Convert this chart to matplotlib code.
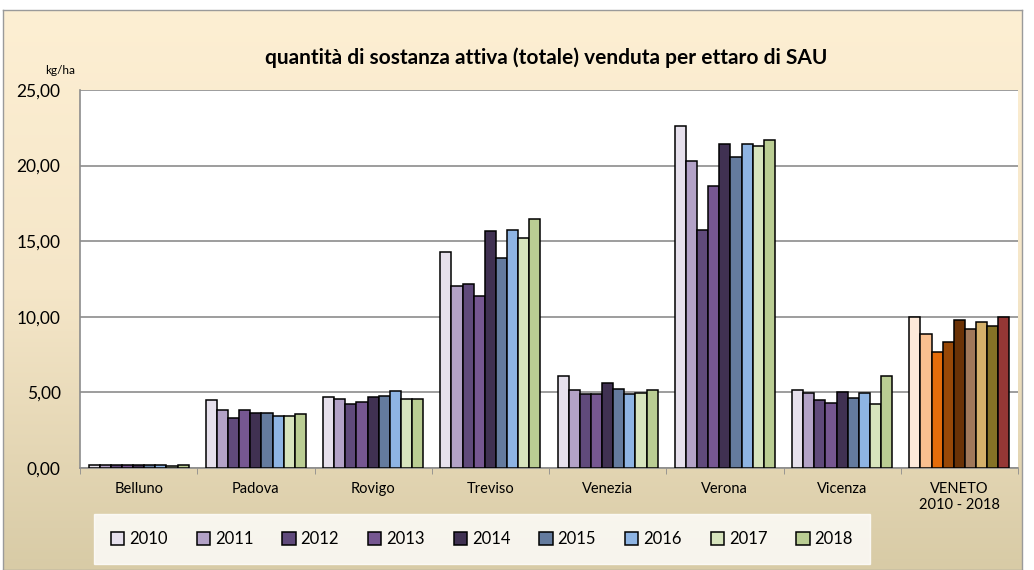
import numpy as np
import matplotlib
matplotlib.use("Agg")
import matplotlib.pyplot as plt
from matplotlib.colors import LinearSegmentedColormap
from matplotlib.ticker import FuncFormatter, FixedLocator

plt.rcParams['font.family'] = ['Lato', 'DejaVu Sans']

categories = ["Belluno", "Padova", "Rovigo", "Treviso", "Venezia", "Verona", "Vicenza", "VENETO\n2010 - 2018"]
years = ["2010", "2011", "2012", "2013", "2014", "2015", "2016", "2017", "2018"]

v2010 = [0.20, 4.48, 4.67, 14.26, 6.06, 22.60, 5.14, 9.97]
v2011 = [0.20, 3.84, 4.56, 12.06, 5.14, 20.28, 4.96, 8.84]
v2012 = [0.20, 3.28, 4.23, 12.17, 4.87, 15.76, 4.52, 7.65]
v2013 = [0.20, 3.84, 4.39, 11.40, 4.87, 18.63, 4.32, 8.31]
v2014 = [0.20, 3.66, 4.67, 15.65, 5.60, 21.43, 5.05, 9.77]
v2015 = [0.20, 3.66, 4.76, 13.91, 5.22, 20.57, 4.61, 9.19]
v2016 = [0.20, 3.46, 5.11, 15.74, 4.87, 21.40, 4.96, 9.66]
v2017 = [0.12, 3.46, 4.56, 15.19, 4.96, 21.30, 4.21, 9.39]
v2018 = [0.20, 3.57, 4.56, 16.50, 5.14, 21.67, 6.06, 9.97]
values = [v2010, v2011, v2012, v2013, v2014, v2015, v2016, v2017, v2018]

colors = ["#E6E0EC", "#B3A2C7", "#604A7B", "#765791", "#403152",
          "#647B9E", "#8EB4E3", "#D7E4BD", "#BACD93"]
veneto_colors = ["#FDE9D9", "#FAC090", "#E46C0A", "#984807", "#6A3206",
                 "#A0785A", "#D4B06A", "#857226", "#953735"]

W, H = 1034, 570
fig = plt.figure(figsize=(W / 100, H / 100), dpi=100)
fig.patch.set_facecolor("white")

# background gradient panel
bg = fig.add_axes([0.003, 0.0, 0.985, 1 - 10 / H], zorder=-10)
cmap = LinearSegmentedColormap.from_list("bg", ["#FDEFD3", "#F5E6C8", "#D8CBA6"])
grad = np.linspace(0, 1, 256).reshape(-1, 1)
bg.imshow(grad, aspect="auto", cmap=cmap, extent=[0, 1, 0, 1])
bg.set_xticks([]); bg.set_yticks([])
for s in bg.spines.values():
    s.set_color("#9A9A9A"); s.set_linewidth(1.0)

ax = fig.add_axes([80 / W, 1 - 468 / H, (1018 - 80) / W, (468 - 90) / H])
ax.set_facecolor("white")

n = len(years)
bw = 0.095
x = np.arange(len(categories))
for j in range(n):
    offs = (j - (n - 1) / 2) * bw
    cols = [colors[j]] * (len(categories) - 1) + [veneto_colors[j]]
    ax.bar(x + offs, values[j], width=bw, color=cols, edgecolor="black",
           linewidth=1.1, label=years[j], zorder=3)

ax.set_xlim(-0.5, len(categories) - 0.5)
ax.set_ylim(0, 25)
ax.set_yticks([0, 5, 10, 15, 20, 25])
ax.yaxis.set_major_formatter(FuncFormatter(lambda v, p: f"{v:.2f}".replace(".", ",")))
ax.yaxis.grid(True, color="#8C8C8C", linewidth=1.2, zorder=0)
ax.tick_params(axis="y", length=0, labelsize=12.5, pad=14)
ax.set_xticks(x)
ax.set_xticklabels(categories, fontsize=10.5)
ax.tick_params(axis="x", length=0, pad=10)
ax.xaxis.set_minor_locator(FixedLocator(np.arange(-0.5, len(categories), 1.0)))
ax.tick_params(axis="x", which="minor", length=4, color="#8C8C8C", direction="out")
for side in ["top", "right"]:
    ax.spines[side].set_visible(False)
ax.spines["left"].set_color("#8C8C8C")
ax.spines["bottom"].set_color("#8C8C8C")
ax.spines["left"].set_linewidth(1.2)
ax.spines["bottom"].set_linewidth(1.2)

fig.text(546 / W, 1 - 58 / H, "quantità di sostanza attiva (totale) venduta per ettaro di SAU",
         ha="center", va="center", fontsize=15, fontweight="bold")
fig.text(60 / W, 1 - 71 / H, "kg/ha", ha="center", va="center", fontsize=8.5)

handles, labels = ax.get_legend_handles_labels()
leg = fig.legend(handles, labels, ncol=9, loc="center",
                 bbox_to_anchor=(86 / W, 5 / H, 792 / W, 52 / H), mode="expand",
                 frameon=True, fancybox=False, handlelength=0.8, handleheight=0.8,
                 handletextpad=0.3, fontsize=12, borderpad=1.0)
leg.get_frame().set_facecolor("white")
leg.get_frame().set_edgecolor("white")

fig.savefig("out.png", dpi=100)
